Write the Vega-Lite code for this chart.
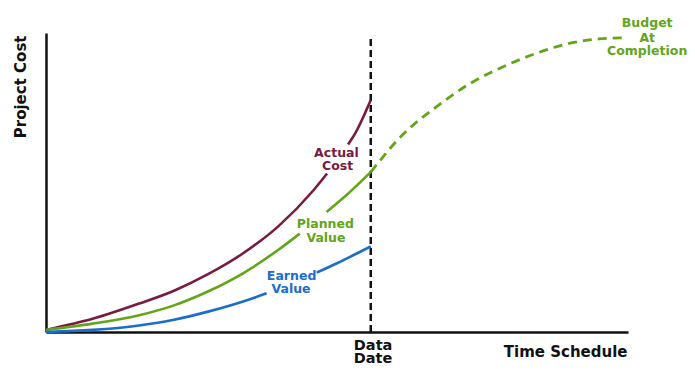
{
  "$schema": "https://vega.github.io/schema/vega-lite/v6.json",
  "width": 582,
  "height": 299,
  "autosize": {"type": "none"},
  "padding": {"left": 46, "top": 33, "right": 67, "bottom": 42},
  "background": "white",
  "config": {"view": {"stroke": null}, "font": "DejaVu Sans"},
  "datasets": {
    "curves": [
      {"series": "Actual Cost", "seg": "a1", "x": 0, "y": 0.7},
      {"series": "Actual Cost", "seg": "a1", "x": 8, "y": 4.4},
      {"series": "Actual Cost", "seg": "a1", "x": 16, "y": 9.5},
      {"series": "Actual Cost", "seg": "a1", "x": 22, "y": 13.8},
      {"series": "Actual Cost", "seg": "a1", "x": 28, "y": 19.5},
      {"series": "Actual Cost", "seg": "a1", "x": 34, "y": 26.5},
      {"series": "Actual Cost", "seg": "a1", "x": 40, "y": 35.5},
      {"series": "Actual Cost", "seg": "a1", "x": 46, "y": 47.5},
      {"series": "Actual Cost", "seg": "a1", "x": 48.3, "y": 53.0},
      {"series": "Actual Cost", "seg": "a2", "x": 51.9, "y": 62.7},
      {"series": "Actual Cost", "seg": "a2", "x": 53, "y": 66.0},
      {"series": "Actual Cost", "seg": "a2", "x": 55.8, "y": 77.6},
      {"series": "Planned Value", "seg": "p1", "x": 0, "y": 0.7},
      {"series": "Planned Value", "seg": "p1", "x": 8, "y": 2.8},
      {"series": "Planned Value", "seg": "p1", "x": 16, "y": 5.6},
      {"series": "Planned Value", "seg": "p1", "x": 22, "y": 8.9},
      {"series": "Planned Value", "seg": "p1", "x": 28, "y": 13.7},
      {"series": "Planned Value", "seg": "p1", "x": 34, "y": 19.8},
      {"series": "Planned Value", "seg": "p1", "x": 40, "y": 27.6},
      {"series": "Planned Value", "seg": "p1", "x": 43.6, "y": 32.9},
      {"series": "Planned Value", "seg": "p2", "x": 48.2, "y": 40.1},
      {"series": "Planned Value", "seg": "p2", "x": 51, "y": 44.7},
      {"series": "Planned Value", "seg": "p2", "x": 55.8, "y": 53.5},
      {"series": "Planned Forecast", "seg": "f1", "x": 55.8, "y": 53.5},
      {"series": "Planned Forecast", "seg": "f1", "x": 61.4, "y": 66.2},
      {"series": "Planned Forecast", "seg": "f1", "x": 67.0, "y": 75.2},
      {"series": "Planned Forecast", "seg": "f1", "x": 72.6, "y": 82.8},
      {"series": "Planned Forecast", "seg": "f1", "x": 78.2, "y": 88.4},
      {"series": "Planned Forecast", "seg": "f1", "x": 83.8, "y": 92.9},
      {"series": "Planned Forecast", "seg": "f1", "x": 89.4, "y": 96.3},
      {"series": "Planned Forecast", "seg": "f1", "x": 95.0, "y": 98.0},
      {"series": "Planned Forecast", "seg": "f1", "x": 99.1, "y": 98.4},
      {"series": "Earned Value", "seg": "e1", "x": 0, "y": 0},
      {"series": "Earned Value", "seg": "e1", "x": 8, "y": 0.7},
      {"series": "Earned Value", "seg": "e1", "x": 16, "y": 2.2},
      {"series": "Earned Value", "seg": "e1", "x": 22, "y": 4.1},
      {"series": "Earned Value", "seg": "e1", "x": 28, "y": 6.9},
      {"series": "Earned Value", "seg": "e1", "x": 34, "y": 10.3},
      {"series": "Earned Value", "seg": "e1", "x": 37.9, "y": 12.95},
      {"series": "Earned Value", "seg": "e2", "x": 46.5, "y": 19.85},
      {"series": "Earned Value", "seg": "e2", "x": 50, "y": 23.0},
      {"series": "Earned Value", "seg": "e2", "x": 55.8, "y": 28.6}
    ],
    "labels": [
      {"text": "Actual", "x": 49.9, "y": 58.5, "series": "Actual Cost"},
      {"text": "Cost", "x": 50.1, "y": 54.2, "series": "Actual Cost"},
      {"text": "Planned", "x": 48.0, "y": 34.8, "series": "Planned Value"},
      {"text": "Value", "x": 48.1, "y": 30.1, "series": "Planned Value"},
      {"text": "Earned", "x": 42.2, "y": 17.4, "series": "Earned Value"},
      {"text": "Value", "x": 42.1, "y": 13.0, "series": "Earned Value"},
      {"text": "Budget", "x": 103.3, "y": 102.0, "series": "Planned Forecast"},
      {"text": "At", "x": 103.3, "y": 97.0, "series": "Planned Forecast"},
      {"text": "Completion", "x": 103.3, "y": 92.6, "series": "Planned Forecast"}
    ],
    "dataDate": [
      {"x": 55.8, "y": 0, "y2": 98.7}
    ],
    "dateLabel": [
      {"text": "Data", "x": 56.2, "y": -6.0},
      {"text": "Date", "x": 56.2, "y": -10.4}
    ]
  },
  "layer": [
    {
      "data": {"name": "dataDate"},
      "mark": {"type": "rule", "color": "#111111", "strokeWidth": 2.5, "strokeDash": [7, 4]},
      "encoding": {
        "x": {"field": "x", "type": "quantitative", "scale": {"domain": [0, 100], "nice": false, "zero": false},
          "axis": {"title": "Time Schedule", "labels": false, "ticks": false, "grid": false, "domainColor": "#111111", "domainWidth": 2.5,
            "titleAnchor": "end", "titleAlign": "right", "titleX": 581, "titleY": 24, "titleBaseline": "alphabetic",
            "titleFontSize": 15, "titleFontWeight": "bold", "titleColor": "#111111", "titleFont": "DejaVu Sans"}},
        "y": {"field": "y", "type": "quantitative", "scale": {"domain": [0, 100], "nice": false, "zero": false},
          "axis": {"title": "Project Cost", "labels": false, "ticks": false, "grid": false, "domainColor": "#111111", "domainWidth": 2.5,
            "titleAnchor": "end", "titleAngle": -90, "titleX": -21, "titleY": 2, "titleAlign": "right", "titleBaseline": "alphabetic",
            "titleFontSize": 15, "titleFontWeight": "bold", "titleColor": "#111111", "titleFont": "DejaVu Sans"}},
        "y2": {"field": "y2"}
      }
    },
    {
      "data": {"name": "curves"},
      "transform": [{"filter": "datum.series !== 'Planned Forecast'"}],
      "mark": {"type": "line", "strokeWidth": 2.6, "interpolate": "monotone", "clip": false},
      "encoding": {
        "x": {"field": "x", "type": "quantitative"},
        "y": {"field": "y", "type": "quantitative"},
        "detail": {"field": "seg"},
        "color": {"field": "series", "type": "nominal", "legend": null,
          "scale": {"domain": ["Actual Cost", "Planned Value", "Earned Value", "Planned Forecast"], "range": ["#7b1a40", "#62a518", "#1b6dcc", "#62a518"]}}
      }
    },
    {
      "data": {"name": "curves"},
      "transform": [{"filter": "datum.series === 'Planned Forecast'"}],
      "mark": {"type": "line", "strokeWidth": 2.8, "interpolate": "monotone", "strokeDash": [9, 6], "clip": false},
      "encoding": {
        "x": {"field": "x", "type": "quantitative"},
        "y": {"field": "y", "type": "quantitative"},
        "color": {"field": "series", "type": "nominal", "legend": null}
      }
    },
    {
      "data": {"name": "labels"},
      "mark": {"type": "text", "fontSize": 12.5, "fontWeight": "bold", "font": "DejaVu Sans", "align": "center", "baseline": "alphabetic"},
      "encoding": {
        "x": {"field": "x", "type": "quantitative"},
        "y": {"field": "y", "type": "quantitative"},
        "text": {"field": "text"},
        "color": {"field": "series", "type": "nominal", "legend": null}
      }
    },
    {
      "data": {"name": "dateLabel"},
      "mark": {"type": "text", "fontSize": 14.5, "fontWeight": "bold", "font": "DejaVu Sans", "align": "center", "baseline": "alphabetic", "color": "#111111"},
      "encoding": {
        "x": {"field": "x", "type": "quantitative"},
        "y": {"field": "y", "type": "quantitative"},
        "text": {"field": "text"}
      }
    }
  ]
}
